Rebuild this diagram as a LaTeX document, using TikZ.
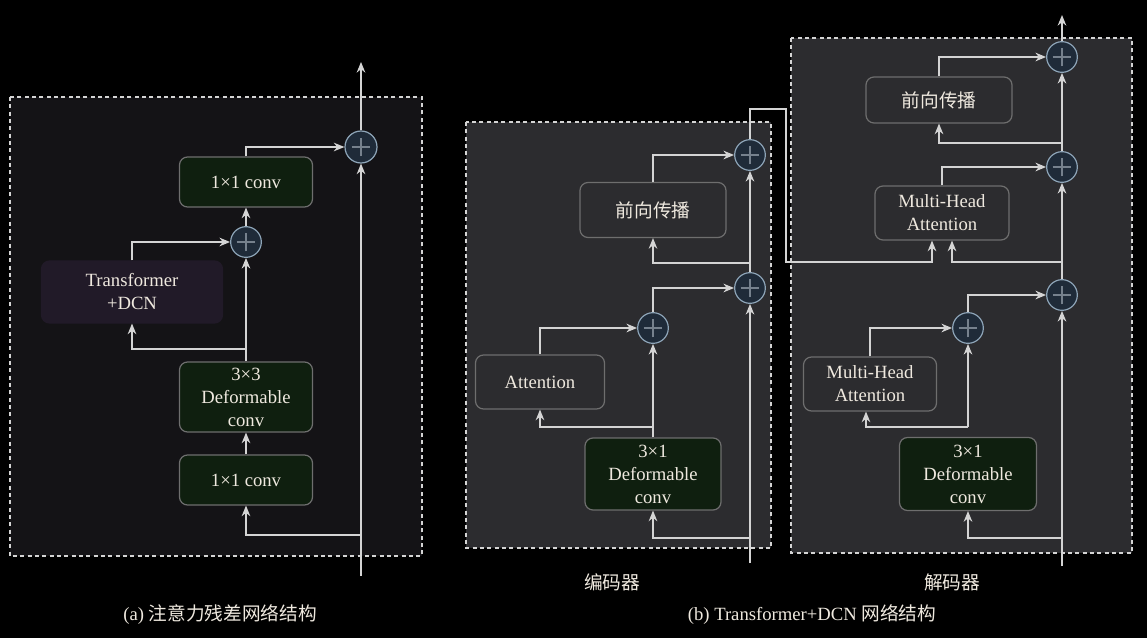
\documentclass[tikz,border=0pt]{standalone}
\usepackage{fontspec}
\setmainfont{Liberation Serif}
\newfontfamily\cjk{Noto Sans CJK SC}
\usetikzlibrary{arrows.meta}

\definecolor{linec}{HTML}{D4D4D4}
\definecolor{txtc}{HTML}{EFE9DF}
\definecolor{panela}{HTML}{141316}
\definecolor{panelb}{HTML}{2C2C2F}
\definecolor{greenc}{HTML}{0F1F0F}
\definecolor{purplec}{HTML}{211A28}
\definecolor{edgec}{HTML}{6E6E6E}
\definecolor{addc}{HTML}{1F2B39}
\definecolor{addedge}{HTML}{8EA5B8}
\definecolor{plusc}{HTML}{76818D}

\tikzset{
	blk/.style={draw=edgec, line width=0.9pt, rounded corners=6pt, inner sep=0pt, align=center, text=txtc, font=\fontsize{14}{17.25}\selectfont},
	convbox/.style={blk, fill=greenc},
	plainbox/.style={blk, fill=panelb},
	adder/.style={circle, draw=addedge, line width=0.9pt, fill=addc, minimum size=23pt, inner sep=0pt,
		path picture={\draw[plusc, line width=0.8pt] (path picture bounding box.center) ++(-7pt,0) -- ++(14pt,0)
			(path picture bounding box.center) ++(0,-7pt) -- ++(0,14pt);}},
	frame/.style={draw=linec, line width=0.8pt, dash pattern=on 3pt off 2.5pt},
	lbl/.style={text=txtc, font=\fontsize{14}{17}\selectfont, inner sep=0pt}
}

\begin{document}
\begin{tikzpicture}[x=0.75pt, y=-0.75pt, >={Stealth[length=8pt, width=6.5pt]}, every path/.append style={line width=1pt}]
	\fill[black] (0,0) rectangle (1147,638); 
	\useasboundingbox (0,0) rectangle (1147,638); 

	% panels
	\draw[frame, fill=panela] (10,97) rectangle (422,556); 
	\draw[frame, fill=panelb] (466,122) rectangle (771,548); 
	\draw[frame, fill=panelb] (791,38) rectangle (1132,553); 

	% (a)
	\node[convbox, minimum width=99.75pt, minimum height=37.5pt] (conva) at (246,182) {1×1 conv}; 
	\node[adder] (adda2) at (246,242) {}; 
	\node[blk, draw=purplec, fill=purplec, minimum width=135.75pt, minimum height=46.5pt] (trans) at (132,292) {Transformer\\+DCN}; 
	\node[convbox, minimum width=99.75pt, minimum height=52.5pt] (defa) at (246,397) {3×3\\Deformable\\conv}; 
	\node[convbox, minimum width=99.75pt, minimum height=37.5pt] (convb) at (246,480) {1×1 conv}; 
	\node[adder, minimum size=24pt] (adda1) at (361,147) {}; 
	\coordinate (ina) at (361,576); 
	\coordinate (outa) at (361,62); 
	\coordinate (splita) at (361,535); 
	\coordinate (brancha) at (246,349); 

	\draw[linec, ->] (ina) -- (adda1); 
	\draw[linec, ->] (adda1) -- (outa); 
	\draw[linec, ->] (splita) -| (convb); 
	\draw[linec, ->] (convb) -- (defa); 
	\draw[linec, ->] (defa) -- (adda2); 
	\draw[linec, ->] (brancha) -| (trans); 
	\draw[linec, ->] (trans) |- (adda2); 
	\draw[linec, ->] (adda2) -- (conva); 
	\draw[linec, ->] (conva) |- (adda1); 

	% encoder
	\node[convbox, minimum width=102pt, minimum height=54pt] (defe) at (653,474) {3×1\\Deformable\\conv}; 
	\node[plainbox, minimum width=96.75pt, minimum height=40.5pt] (att) at (540,382) {Attention}; 
	\node[plainbox, minimum width=109.5pt, minimum height=41.25pt] (ffe) at (653,210) {\cjk 前向传播}; 
	\node[adder] (adde3) at (653,328) {}; 
	\node[adder] (adde2) at (750,288) {}; 
	\node[adder] (adde1) at (750,155) {}; 
	\coordinate (ine) at (750,563); 
	\coordinate (splite) at (750,538); 
	\coordinate (branche) at (653,427); 
	\coordinate (branche2) at (750,263); 

	\draw[linec, ->] (ine) -- (adde2); 
	\draw[linec, ->] (splite) -| (defe); 
	\draw[linec, ->] (defe) -- (adde3); 
	\draw[linec, ->] (branche) -| (att); 
	\draw[linec, ->] (att) |- (adde3); 
	\draw[linec, ->] (adde3) |- (adde2); 
	\draw[linec, ->] (adde2) -- (adde1); 
	\draw[linec, ->] (branche2) -| (ffe); 
	\draw[linec, ->] (ffe) |- (adde1); 

	% decoder
	\node[convbox, minimum width=102.75pt, minimum height=54.75pt] (defd) at (968,474) {3×1\\Deformable\\conv}; 
	\node[plainbox, minimum width=99.75pt, minimum height=40.5pt] (mha2) at (870,384) {Multi-Head\\Attention}; 
	\node[plainbox, minimum width=100.5pt, minimum height=40.5pt] (mha1) at (942,213) {Multi-Head\\Attention}; 
	\node[plainbox, minimum width=109.5pt, minimum height=34.5pt] (ffd) at (939,100) {\cjk 前向传播}; 
	\node[adder] (addd3) at (968,328) {}; 
	\node[adder] (addd2) at (1062,295) {}; 
	\node[adder] (addd1) at (1062,167) {}; 
	\node[adder] (addd0) at (1062,57) {}; 
	\coordinate (ind) at (1062,566); 
	\coordinate (splitd) at (1062,538); 
	\coordinate (branchd) at (968,427); 
	\coordinate (branchd2) at (1062,262); 
	\coordinate (branchd3) at (1062,143); 
	\coordinate (outd) at (1062,15); 

	\draw[linec, ->] (ind) -- (addd2); 
	\draw[linec, ->] (splitd) -| (defd); 
	\draw[linec, ->] (branchd) -- (addd3); 
	\draw[linec, ->] (branchd) -| ([xshift=-3pt]mha2.south); 
	\draw[linec, ->] (mha2) |- (addd3); 
	\draw[linec, ->] (addd3) |- (addd2); 
	\draw[linec, ->] (addd2) -- (addd1); 
	\draw[linec, ->] (branchd2) -| ([xshift=7.5pt]mha1.south); 
	\draw[linec, ->] (mha1) |- (addd1); 
	\draw[linec, ->] (addd1) -- (addd0); 
	\draw[linec, ->] (branchd3) -| (ffd); 
	\draw[linec, ->] (ffd) |- (addd0); 
	\draw[linec, ->] (addd0) -- (outd); 

	% encoder to decoder
	\draw[linec, ->] (adde1) |- (786,109) -- (786,262) -| ([xshift=-7.5pt]mha1.south); 

	% captions
	\node[lbl] (capa) at (220,615) {(a) {\cjk 注意力残差网络结构}}; 
	\node[lbl] (cape) at (612,582) {\cjk 编码器}; 
	\node[lbl] (capd) at (952,582) {\cjk 解码器}; 
	\node[lbl] (capb) at (812,615) {(b) Transformer+DCN {\cjk 网络结构}}; 
\end{tikzpicture}
\end{document}
